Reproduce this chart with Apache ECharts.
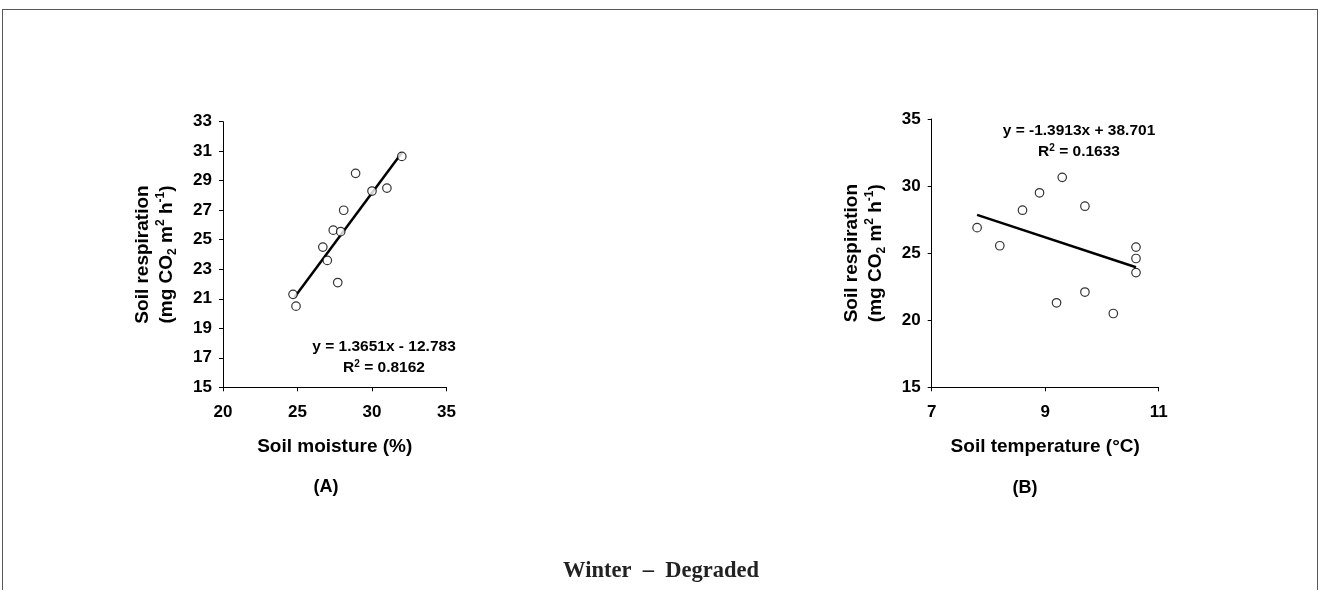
<!DOCTYPE html>
<html>
<head>
<meta charset="utf-8">
<script src="https://cdn.jsdelivr.net/npm/echarts@6/dist/echarts.min.js"></script>
<style>
html,body{margin:0;padding:0;background:#fff;}
#frame{position:absolute;left:2px;top:9px;width:1316px;height:600px;border:1.5px solid #5a5a5a;border-bottom:none;box-sizing:border-box;}
#chart{position:absolute;left:0;top:0;width:1322px;height:590px;}
</style>
</head>
<body>
<div id="frame"></div>
<div id="chart"></div>
<script>
// ---- Data ----
const moistureA = [24.7, 24.9, 26.7, 27.0, 27.4, 27.7, 27.9, 28.1, 28.9, 30.0, 31.0, 32.0];
const respA     = [21.3, 20.5, 24.5, 23.6, 25.65, 22.1, 25.55, 27.0, 29.5, 28.3, 28.5, 30.65];
const trendAx   = [24.8, 32.0];
const trendAy   = [21.1, 30.9];

const tempB     = [7.8, 8.2, 8.6, 8.9, 9.3, 9.7, 10.6, 10.6, 10.6, 9.7, 9.2, 10.2];
const respB     = [26.9, 25.55, 28.2, 29.5, 30.65, 28.5, 25.45, 24.6, 23.55, 22.1, 21.3, 20.5];
const trendBx   = [7.8, 10.6];
const trendBy   = [27.85, 23.95];

const yTicksA = [15, 17, 19, 21, 23, 25, 27, 29, 31, 33];
const xTicksA = [20, 25, 30, 35];
const yTicksB = [15, 20, 25, 30, 35];
const xTicksB = [7, 9, 11];

const eqA = ['y = 1.3651x - 12.783', '0.8162'];
const eqB = ['y = -1.3913x + 38.701', '0.1633'];

// ---- Styles ----
const FF = '"Liberation Sans", Arial, sans-serif';
const pairs = (xs, ys) => xs.map((x, i) => [x, ys[i]]);

const yName = '{t|Soil respiration}\n{t|(mg CO}{sub|2}{t| m}{sup|2}{t| h}{sup|-1}{t|)}';
const yNameStyle = {
  rich: {
    t:   { fontFamily: FF, fontWeight: 'bold', fontSize: 19, lineHeight: 24, color: '#000' },
    sub: { fontFamily: FF, fontWeight: 'bold', fontSize: 12, lineHeight: 12, verticalAlign: 'bottom', color: '#000' },
    sup: { fontFamily: FF, fontWeight: 'bold', fontSize: 12, lineHeight: 12, verticalAlign: 'top', color: '#000' }
  }
};
const axisLine = { show: true, onZero: false, lineStyle: { color: '#000', width: 1 } };
const labelStyle = { color: '#000', fontFamily: FF, fontWeight: 'bold', fontSize: 17 };

function xAxis(idx, min, max, ticks, name) {
  return {
    type: 'value', gridIndex: idx, min: min, max: max,
    axisLine: axisLine,
    axisTick: { show: true, inside: false, length: 4, customValues: ticks, lineStyle: { color: '#000' } },
    axisLabel: Object.assign({ margin: 17, customValues: ticks }, labelStyle),
    splitLine: { show: false },
    name: name, nameLocation: 'middle', nameGap: 50,
    nameTextStyle: { color: '#000', fontFamily: FF, fontWeight: 'bold', fontSize: 19 }
  };
}
function yAxis(idx, min, max, ticks, gap) {
  return {
    type: 'value', gridIndex: idx, min: min, max: max,
    axisLine: axisLine,
    axisTick: { show: true, inside: false, length: 4, customValues: ticks, lineStyle: { color: '#000' } },
    axisLabel: Object.assign({ margin: 11, customValues: ticks }, labelStyle),
    splitLine: { show: false },
    name: yName, nameLocation: 'middle', nameGap: gap, nameRotate: 90,
    nameTextStyle: yNameStyle
  };
}
const scatterStyle = { color: '#fff', borderColor: '#000', borderWidth: 1.2 };
const eqRich = {
  t:   { fontFamily: FF, fontWeight: 'bold', fontSize: 15.5, lineHeight: 18, fill: '#000', color: '#000' },
  sup: { fontFamily: FF, fontWeight: 'bold', fontSize: 10, lineHeight: 10, verticalAlign: 'top', fill: '#000', color: '#000' }
};
function eqText(x, y, lines) {
  return [
    { type: 'text', x: x, y: y, style: { text: lines[0], fill: '#000', font: 'bold 15.5px ' + FF, align: 'center', verticalAlign: 'middle' } },
    { type: 'text', x: x, y: y + 21, style: { text: '{t|R}{sup|2}{t| = ' + lines[1] + '}', rich: eqRich, align: 'center', verticalAlign: 'middle' } }
  ];
}

const chart = echarts.init(document.getElementById('chart'));
chart.setOption({
  animation: false,
  backgroundColor: 'transparent',
  grid: [
    { left: 223, top: 121.7, width: 223.5, height: 265.6 },
    { left: 931.7, top: 119, width: 227, height: 268.3 }
  ],
  xAxis: [
    xAxis(0, 20, 35, xTicksA, 'Soil moisture (%)'),
    xAxis(1, 7, 11, xTicksB, 'Soil temperature (°C)')
  ],
  yAxis: [
    yAxis(0, 15, 33, yTicksA, 44),
    yAxis(1, 15, 35, yTicksB, 44)
  ],
  series: [
    { type: 'line', xAxisIndex: 0, yAxisIndex: 0, data: pairs(trendAx, trendAy), symbol: 'none', lineStyle: { color: '#000', width: 2.5 }, z: 2 },
    { type: 'scatter', xAxisIndex: 0, yAxisIndex: 0, data: pairs(moistureA, respA), symbol: 'circle', symbolSize: 8.5, itemStyle: scatterStyle, z: 3 },
    { type: 'line', xAxisIndex: 1, yAxisIndex: 1, data: pairs(trendBx, trendBy), symbol: 'none', lineStyle: { color: '#000', width: 2.5 }, z: 2 },
    { type: 'scatter', xAxisIndex: 1, yAxisIndex: 1, data: pairs(tempB, respB), symbol: 'circle', symbolSize: 8.5, itemStyle: scatterStyle, z: 3 }
  ],
  graphic: [].concat(
    eqText(384, 347, eqA),
    eqText(1079, 131, eqB),
    [
      { type: 'text', x: 326, y: 487, style: { text: '(A)', fill: '#000', font: 'bold 18px ' + FF, align: 'center', verticalAlign: 'middle' } },
      { type: 'text', x: 1025, y: 488, style: { text: '(B)', fill: '#000', font: 'bold 18px ' + FF, align: 'center', verticalAlign: 'middle' } },
      { type: 'text', x: 661, y: 571, style: { text: 'Winter  –  Degraded', fill: '#222', font: 'bold 22.5px "Liberation Serif", "Times New Roman", serif', align: 'center', verticalAlign: 'middle' } }
    ]
  )
});
</script>
</body>
</html>
